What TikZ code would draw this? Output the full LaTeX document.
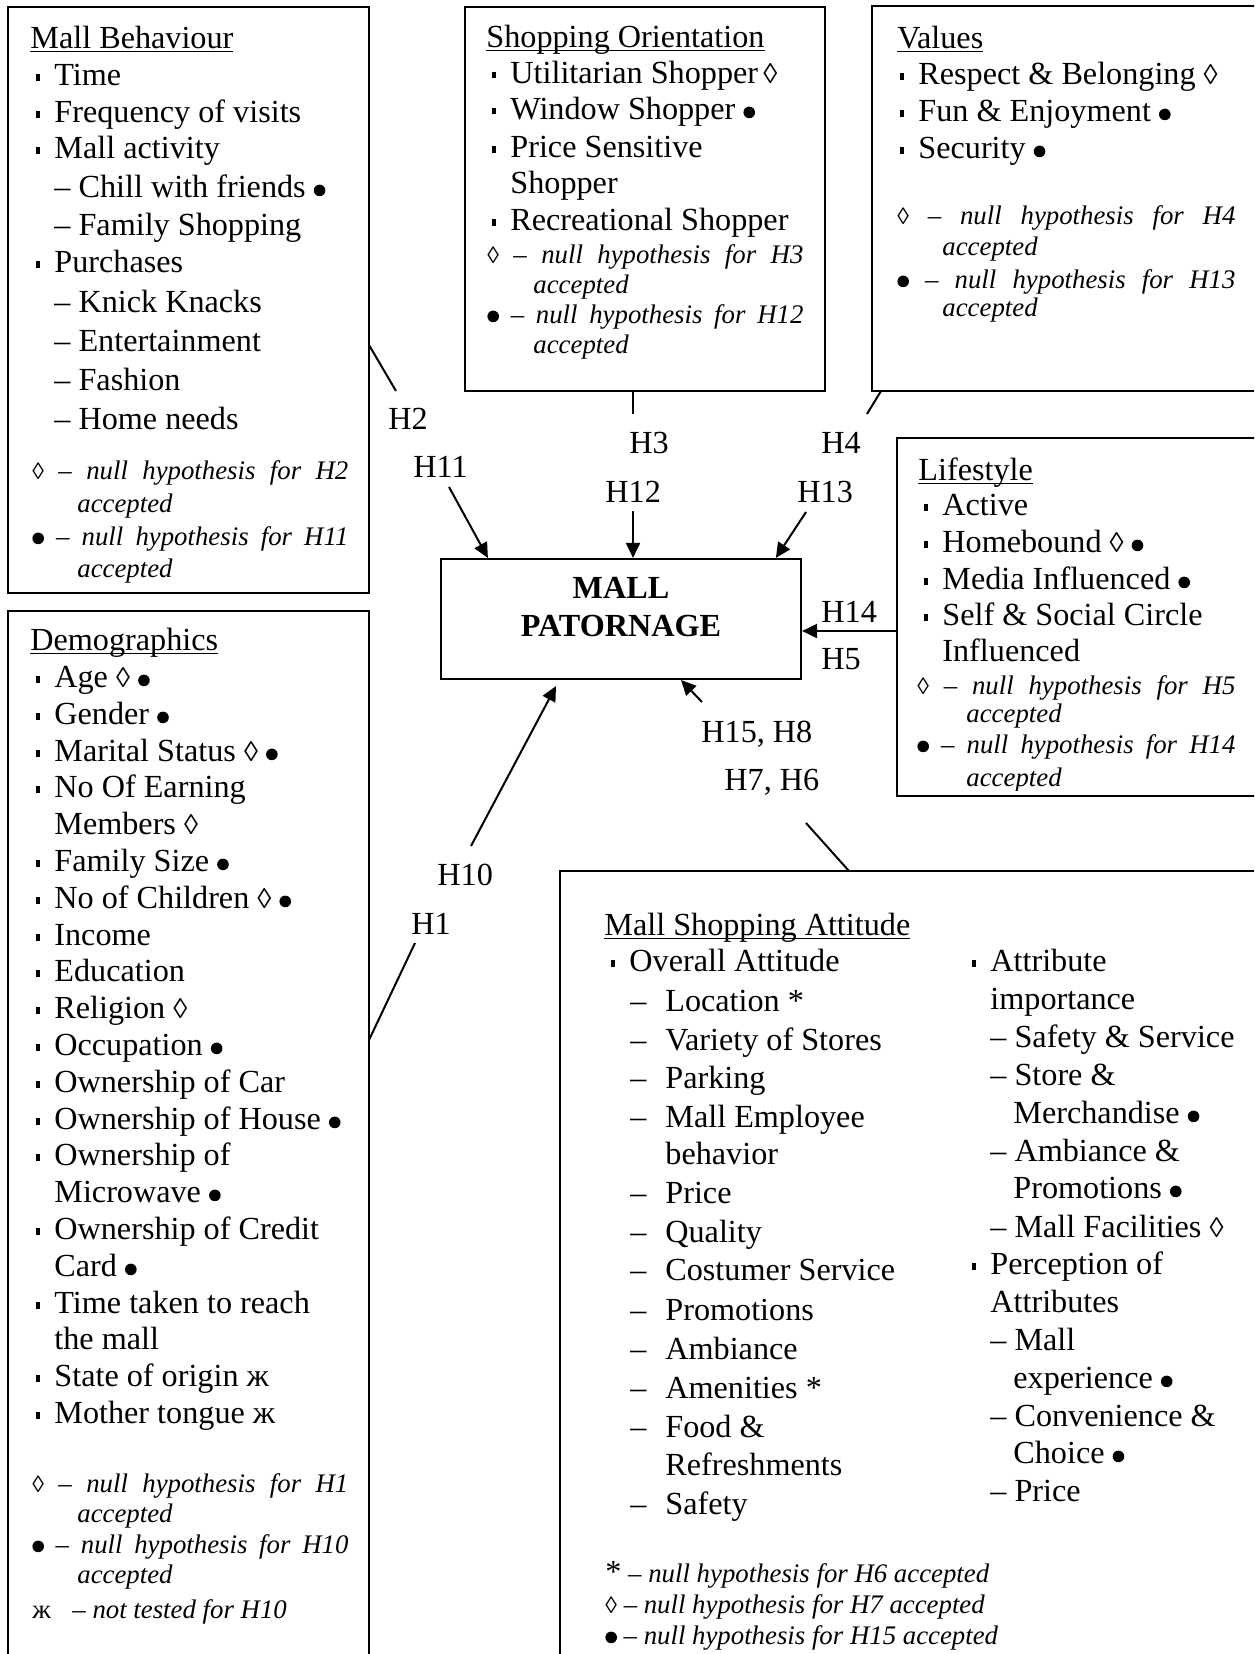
\documentclass[tikz,border=0pt]{standalone}
\usepackage{fontspec}
\setmainfont{Liberation Serif}
\usetikzlibrary{arrows.meta,fit,calc}
\newlength\px \setlength\px{0.5pt}
\newcommand\sqb{\rule[4.5\px]{4.5\px}{6.5\px}}
\newcommand\bul{\llap{\sqb\hspace{14\px}}}
\newcommand\dt{\tikz[baseline=0pt,x=1pt,y=1pt]\fill (2.9pt,3.3pt) circle[radius=2.9pt];}
\newcommand\lz{\scalebox{0.88}{◊}}
\newcommand\ulin[1]{\setbox0\hbox{#1}\rlap{\rule[-4\px]{\wd0}{1.3\px}}\box0}
\newcommand\dsh{\makebox[35\px][l]{–}}
\newcommand\mkln[4][txt]{\node[#1] (#2) at #3 {#4};}
\newcommand\just[2]{\makebox[#1\px][s]{#2}}
\tikzset{
  txt/.style={anchor=base west, inner sep=0pt, font=\fontsize{16.1pt}{18pt}\selectfont},
  lg/.style={anchor=base west, inner sep=0pt, font=\fontsize{13.4pt}{15pt}\selectfont\itshape},
  box/.style={draw, line width=1.1pt, inner sep=0pt},
  con/.style={line width=1pt},
  arr/.style={line width=1pt, -{Triangle[length=7.5pt,width=7pt]}},
  bold/.style={anchor=base, inner sep=0pt, font=\fontsize{16.1pt}{18pt}\selectfont\bfseries}
}
\begin{document}
\begin{tikzpicture}[x=0.5pt,y=-0.5pt]
\useasboundingbox (0,0) rectangle (1254,1654);
\clip (0,0) rectangle (1254,1654);
\fill[white] (0,0) rectangle (1254,1654);

% boxes
\node[box, fit={(8,7) (369,593)}] (mb) {};
\node[box, fit={(465,7) (825,391)}] (so) {};
\node[box, fit={(872,6) (1300,391)}] (val) {};
\node[box, fit={(897,438) (1300,796)}] (life) {};
\node[box, fit={(8,611) (369,1700)}] (dem) {};
\node[box, fit={(560,871) (1300,1700)}] (msa) {};
\node[box, fit={(441,559) (801,679)}] (mp) {};

% Mall patronage text
\node[bold] (mpA) at (621,598) {MALL};
\node[bold] (mpB) at (621,636) {PATORNAGE};

% Mall Behaviour
\mkln{mbT}{(30,48)}{\ulin{Mall Behaviour}}
\mkln{mb1}{(54,85)}{\bul Time}
\mkln{mb2}{(54,122)}{\bul Frequency of visits}
\mkln{mb3}{(54,158)}{\bul Mall activity}
\mkln{mb4}{(54,197)}{– Chill with friends \dt}
\mkln{mb5}{(54,235)}{– Family Shopping}
\mkln{mb6}{(54,272)}{\bul Purchases}
\mkln{mb7}{(54,312)}{– Knick Knacks}
\mkln{mb8}{(54,351)}{– Entertainment}
\mkln{mb9}{(54,390)}{– Fashion}
\mkln{mb10}{(54,429)}{– Home needs}
\mkln[lg]{mbL1}{(32,479)}{\just{316}{{\upshape\lz} – null hypothesis for H2}}
\mkln[lg]{mbL2}{(77,512)}{accepted}
\mkln[lg]{mbL3}{(32,545)}{\just{316}{\dt{} – null hypothesis for H11}}
\mkln[lg]{mbL4}{(77,577)}{accepted}

% Shopping Orientation
\mkln{soT}{(486,47)}{\ulin{Shopping Orientation}}
\mkln{so1}{(510,83)}{\bul Utilitarian Shopper\,\lz}
\mkln{so2}{(510,119)}{\bul Window Shopper \dt}
\mkln{so3}{(510,157)}{\bul Price Sensitive}
\mkln{so4}{(510,193)}{Shopper}
\mkln{so5}{(510,230)}{\bul Recreational Shopper}
\mkln[lg]{soL1}{(487,263)}{\just{316}{{\upshape\lz} – null hypothesis for H3}}
\mkln[lg]{soL2}{(533,293)}{accepted}
\mkln[lg]{soL3}{(487,323)}{\just{316}{\dt{} – null hypothesis for H12}}
\mkln[lg]{soL4}{(533,353)}{accepted}

% Values
\mkln{vT}{(897,48)}{\ulin{Values}}
\mkln{v1}{(918,84)}{\bul Respect \& Belonging \lz}
\mkln{v2}{(918,121)}{\bul Fun \& Enjoyment \dt}
\mkln{v3}{(918,158)}{\bul Security \dt}
\mkln[lg]{vL1}{(897,224)}{\just{338}{{\upshape\lz} – null hypothesis for H4}}
\mkln[lg]{vL2}{(942,255)}{accepted}
\mkln[lg]{vL3}{(897,288)}{\just{338}{\dt{} – null hypothesis for H13}}
\mkln[lg]{vL4}{(942,316)}{accepted}

% Lifestyle
\mkln{lT}{(918,480)}{\ulin{Lifestyle}}
\mkln{l1}{(942,515)}{\bul Active}
\mkln{l2}{(942,552)}{\bul Homebound \lz{} \dt}
\mkln{l3}{(942,589)}{\bul Media Influenced \dt}
\mkln{l4}{(942,625)}{\bul Self \& Social Circle}
\mkln{l5}{(942,661)}{Influenced}
\mkln[lg]{lL1}{(917,694)}{\just{318}{{\upshape\lz} – null hypothesis for H5}}
\mkln[lg]{lL2}{(966,722)}{accepted}
\mkln[lg]{lL3}{(917,753)}{\just{318}{\dt{} – null hypothesis for H14}}
\begin{scope}
\clip (897,438) rectangle (1300,790);
\mkln[lg]{lL4}{(966,786)}{accepted}
\end{scope}

% Demographics
\mkln{dT}{(30,650)}{\ulin{Demographics}}
\mkln{d1}{(54,687)}{\bul Age \lz{} \dt}
\mkln{d2}{(54,724)}{\bul Gender \dt}
\mkln{d3}{(54,761)}{\bul Marital Status \lz{} \dt}
\mkln{d4}{(54,797)}{\bul No Of Earning}
\mkln{d5}{(54,834)}{Members \lz}
\mkln{d6}{(54,871)}{\bul Family Size \dt}
\mkln{d7}{(54,908)}{\bul No of Children \lz{} \dt}
\mkln{d8}{(54,945)}{\bul Income}
\mkln{d9}{(54,981)}{\bul Education}
\mkln{d10}{(54,1018)}{\bul Religion \lz}
\mkln{d11}{(54,1055)}{\bul Occupation \dt}
\mkln{d12}{(54,1092)}{\bul Ownership of Car}
\mkln{d13}{(54,1129)}{\bul Ownership of House \dt}
\mkln{d14}{(54,1165)}{\bul Ownership of}
\mkln{d15}{(54,1202)}{Microwave \dt}
\mkln{d16}{(54,1239)}{\bul Ownership of Credit}
\mkln{d17}{(54,1276)}{Card \dt}
\mkln{d18}{(54,1313)}{\bul Time taken to reach}
\mkln{d19}{(54,1349)}{the mall}
\mkln{d20}{(54,1386)}{\bul State of origin ж}
\mkln{d21}{(54,1423)}{\bul Mother tongue ж}
\mkln[lg]{dL1}{(32,1492)}{\just{316}{{\upshape\lz} – null hypothesis for H1}}
\mkln[lg]{dL2}{(77,1522)}{accepted}
\mkln[lg]{dL3}{(32,1553)}{\just{316}{\dt{} – null hypothesis for H10}}
\mkln[lg]{dL4}{(77,1583)}{accepted}
\mkln[lg]{dL5}{(32,1618)}{\makebox[40\px][l]{\upshape ж}– not tested for H10}

% Mall Shopping Attitude
\mkln{mT}{(604,935)}{\ulin{Mall Shopping Attitude}}
\mkln{m1}{(629,971)}{\bul Overall Attitude}
\mkln{m2}{(630,1011)}{\dsh Location *}
\mkln{m3}{(630,1050)}{\dsh Variety of Stores}
\mkln{m4}{(630,1088)}{\dsh Parking}
\mkln{m5}{(630,1127)}{\dsh Mall Employee}
\mkln{m6}{(665,1164)}{behavior}
\mkln{m7}{(630,1203)}{\dsh Price}
\mkln{m8}{(630,1242)}{\dsh Quality}
\mkln{m9}{(630,1280)}{\dsh Costumer Service}
\mkln{m10}{(630,1320)}{\dsh Promotions}
\mkln{m11}{(630,1359)}{\dsh Ambiance}
\mkln{m12}{(630,1398)}{\dsh Amenities *}
\mkln{m13}{(630,1437)}{\dsh Food \&}
\mkln{m14}{(665,1475)}{Refreshments}
\mkln{m15}{(630,1514)}{\dsh Safety}
\mkln{r1}{(990,971)}{\bul Attribute}
\mkln{r2}{(990,1009)}{importance}
\mkln{r3}{(990,1047)}{– Safety \& Service}
\mkln{r4}{(990,1085)}{– Store \&}
\mkln{r5}{(1013,1123)}{Merchandise \dt}
\mkln{r6}{(990,1161)}{– Ambiance \&}
\mkln{r7}{(1013,1198)}{Promotions \dt}
\mkln{r8}{(990,1237)}{– Mall Facilities \lz}
\mkln{r9}{(990,1274)}{\bul Perception of}
\mkln{r10}{(990,1312)}{Attributes}
\mkln{r11}{(990,1350)}{– Mall}
\mkln{r12}{(1013,1388)}{experience \dt}
\mkln{r13}{(990,1426)}{– Convenience \&}
\mkln{r14}{(1013,1463)}{Choice \dt}
\mkln{r15}{(990,1501)}{– Price}
\mkln[lg]{mL1}{(605,1582)}{{\upshape\fontsize{16.1pt}{18pt}\selectfont *} – null hypothesis for H6 accepted}
\mkln[lg]{mL2}{(605,1613)}{{\upshape\lz} – null hypothesis for H7 accepted}
\mkln[lg]{mL3}{(605,1644)}{\dt{} – null hypothesis for H15 accepted}

% hypothesis labels
\mkln{hH2}{(388,429)}{H2}
\mkln{hH11}{(413,477)}{H11}
\mkln{hH3}{(629,453)}{H3}
\mkln{hH4}{(821,453)}{H4}
\mkln{hH12}{(605,502)}{H12}
\mkln{hH13}{(797,502)}{H13}
\mkln{hH14}{(821,622)}{H14}
\mkln{hH5}{(821,669)}{H5}
\mkln{hH158}{(701,742)}{H15, H8}
\mkln{hH76}{(724,790)}{H7, H6}
\mkln{hH10}{(437,885)}{H10}
\mkln{hH1}{(411,934)}{H1}

% connector coordinates
\coordinate (c2a) at (369,345);
\coordinate (c2b) at (396,391);
\coordinate (c11) at (449,487);
\coordinate (c12) at (633,511);
\coordinate (c13) at (806,512);
\coordinate (c3) at (633,414);
\coordinate (c4a) at (881,391);
\coordinate (c4b) at (867,414);
\coordinate (c14) at (897,631);
\coordinate (c15) at (702,702);
\coordinate (c15t) at (681,680);
\coordinate (c10) at (471,846);
\coordinate (c10t) at (556,686);
\coordinate (c6a) at (806,823);
\coordinate (c6b) at (849,871);
\coordinate (c1a) at (369,1040);
\coordinate (c1b) at (415,943);

% connectors
\draw[con] (c2a) -- (c2b);
\draw[arr] (c11) -- ($(mp.north west)+(48,0)$);
\draw[con] (c3 |- so.south) -- (c3);
\draw[arr] (c12) -- (c12 |- mp.north);
\draw[con] (c4a) -- (c4b);
\draw[arr] (c13) -- ($(mp.north west)+(336,0)$);
\draw[arr] (c14) -- (c14 -| mp.east);
\draw[arr] (c15) -- (c15t);
\draw[arr] (c10) -- (c10t);
\draw[con] (c6a) -- (c6b);
\draw[con] (c1a) -- (c1b);
\end{tikzpicture}
\end{document}
